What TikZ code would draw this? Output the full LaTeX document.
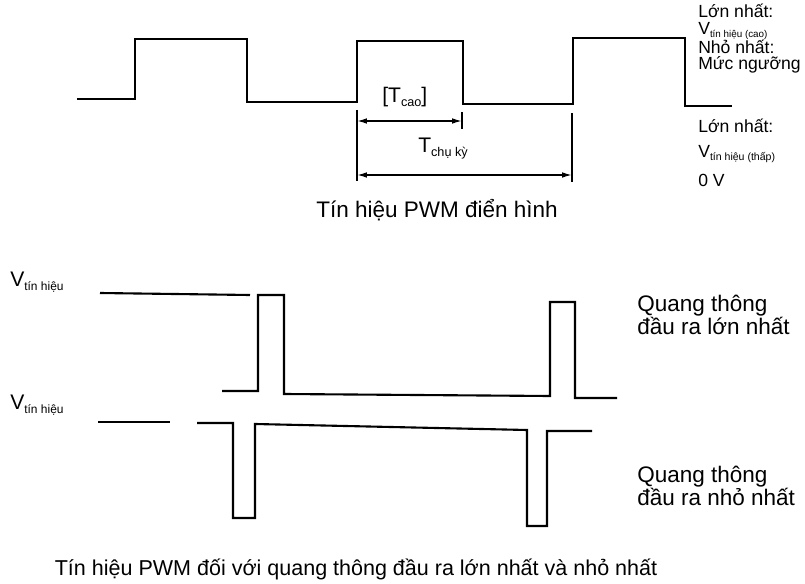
\documentclass[tikz,border=0pt]{standalone}
\usepackage{fontspec}
\setmainfont{Liberation Sans}
\usetikzlibrary{arrows.meta}

\newcommand{\lblsub}[2]{\raisebox{-0.3ex}{\fontsize{#1}{#1}\selectfont #2}}

\tikzset{
	wave/.style={line width=1.5pt, line join=miter},
	dimline/.style={line width=1.1pt},
	dimarrow/.style={line width=1.1pt, {Latex[length=7pt,width=4pt]}-{Latex[length=7pt,width=4pt]}},
	txt/.style={inner sep=0pt, anchor=base west, font=\fontsize{12.5}{13}\selectfont},
	tlbl/.style={inner sep=0pt, anchor=base west, font=\fontsize{15}{16}\selectfont},
	bigtxt/.style={inner sep=0pt, anchor=base west, align=left, font=\fontsize{16}{15}\selectfont}
}

\begin{document}
\begin{tikzpicture}[x=0.025cm, y=-0.025cm]

		\useasboundingbox (0, 0) rectangle (805, 584);

		% typical PWM signal
		\draw[wave] (77, 99) -- (135, 99) -- (135, 39) -- (247, 39) -- (247, 102) -- (357, 102)
			-- (357, 41) -- (463, 41) -- (463, 104) -- (573, 104) -- (573, 38) -- (685, 38)
			-- (685, 106) -- (732, 106);

		\coordinate (ta) at (357, 110);
		\coordinate (tb) at (357, 181);
		\coordinate (tc) at (572, 113);
		\coordinate (td) at (572, 182);
		\coordinate (te) at (462, 112);
		\coordinate (tf) at (462, 129);
		\draw[dimline] (ta) -- (tb);
		\draw[dimline] (tc) -- (td);
		\draw[dimline] (te) -- (tf);
		\draw[dimarrow] (ta |- 0, 121) -- (te |- 0, 121);
		\draw[dimarrow] (ta |- 0, 175) -- (tc |- 0, 175);

		\node[tlbl] (tcao) at (382, 103) {[T\lblsub{9}{cao}]};
		\node[tlbl] (tchu) at (418, 153) {T\lblsub{9}{chụ kỳ}};

		\node[txt] (maxa) at (698, 18)  {Lớn nhất:};
		\node[txt] (maxav) at (698, 35) {V\lblsub{7}{tín hiệu (cao)}};
		\node[txt] (mina) at (698, 54)  {Nhỏ nhất:};
		\node[txt] (minav) at (698, 70) {Mức ngưỡng};
		\node[txt] (maxb) at (698, 133) {Lớn nhất:};
		\node[txt] (maxbv) at (698, 158) {V\lblsub{7.5}{tín hiệu (thấp)}};
		\node[txt] (zero) at (698, 187) {0 V};

		\node[bigtxt, anchor=base] (cap1) at (437, 218) {Tín hiệu PWM điển hình};

		% maximum / minimum output
		\draw[wave] (100, 293) -- (250, 295);
		\draw[wave] (222, 391) -- (258, 391) -- (258, 295) -- (284, 295) -- (284, 394)
			-- (550, 396) -- (550, 302) -- (575, 302) -- (575, 398) -- (617, 398);

		\draw[wave] (98, 422) -- (170, 422);
		\draw[wave] (197, 423) -- (233, 423) -- (233, 518) -- (255, 518) -- (255, 424)
			-- (527, 430) -- (527, 526) -- (547, 526) -- (547, 431) -- (592, 431);

		\node[tlbl] (va) at (10, 287) {V\lblsub{8.5}{tín hiệu}};
		\node[tlbl] (vb) at (10, 410) {V\lblsub{8.5}{tín hiệu}};

		\node[bigtxt] (qmax) at (637, 335) {Quang thông\\đầu ra lớn nhất};
		\node[bigtxt] (qmin) at (637, 506) {Quang thông\\đầu ra nhỏ nhất};

		\node[bigtxt, anchor=base, font=\fontsize{15.3}{16}\selectfont] (cap2) at (356, 575) {Tín hiệu PWM đối với quang thông đầu ra lớn nhất và nhỏ nhất};

\end{tikzpicture}
\end{document}
